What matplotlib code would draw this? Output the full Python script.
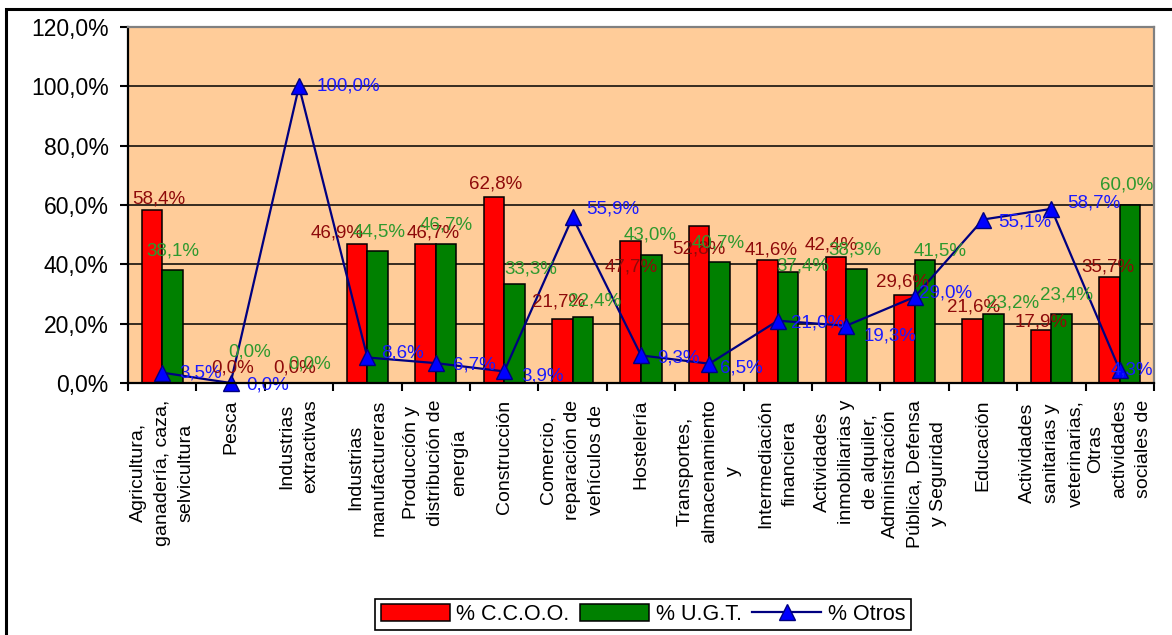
import numpy as np
import matplotlib.pyplot as plt
from matplotlib.patches import Rectangle, Patch
from matplotlib.lines import Line2D

plt.rcParams['font.family'] = ['Liberation Sans', 'DejaVu Sans']

# ---------- datos ----------
sectores = [
    "Agricultura,\nganadería, caza,\nselvicultura",
    "Pesca",
    "Industrias\nextractivas",
    "Industrias\nmanufactureras",
    "Producción y\ndistribución de\nenergía",
    "Construcción",
    "Comercio,\nreparación de\nvehículos de",
    "Hostelería",
    "Transportes,\nalmacenamiento\ny",
    "Intermediación\nfinanciera",
    "Actividades\ninmobiliarias y\nde alquiler,",
    "Administración\nPública, Defensa\ny Seguridad",
    "Educación",
    "Actividades\nsanitarias y\nveterinarias,",
    "Otras\nactividades\nsociales de",
]
ccoo = [58.4, 0.0, 0.0, 46.9, 46.7, 62.8, 21.7, 47.7, 52.8, 41.6, 42.4, 29.6, 21.6, 17.9, 35.7]
ugt = [38.1, 0.0, 0.0, 44.5, 46.7, 33.3, 22.4, 43.0, 40.7, 37.4, 38.3, 41.5, 23.2, 23.4, 60.0]
otros = [3.5, 0.0, 100.0, 8.6, 6.7, 3.9, 55.9, 9.3, 6.5, 21.0, 19.3, 29.0, 55.1, 58.7, 4.3]
y_ticks = [0, 20, 40, 60, 80, 100, 120]

# desplazamiento de las etiquetas (px): (dx, dy hacia arriba)
off_ccoo = [(7, 11), (12, 15), (6, 15), (-20, 11), (8, 11), (2, 13), (-4, 17), (0, -26),
            (0, -23), (4, 10), (-5, 12), (-2, 13), (1, 12), (0, 8), (-2, 10)]
off_ugt = [(0, 19), (9, 31), (0, 19), (1, 19), (0, 19), (16, 15), (12, 16), (-1, 20),
           (-1, 19), (15, 6), (-2, 19), (15, 9), (19, 11), (5, 19), (-3, 20)]
off_otros = [(17, 0), (16, -2), (18, 0), (14, 4), (17, -2), (17, -5), (14, 8), (16, -3),
             (11, -4), (13, -2), (17, -10), (4, 4), (15, -2), (16, 6), (-9, 0)]

def pct(v):
    return f"{v:.1f}%".replace(".", ",")

PX = 0.72  # px -> pt a 100 dpi

# ---------- figura ----------
fig = plt.figure(figsize=(11.72, 6.35), dpi=100)
ax = fig.add_axes([128/1172, 1 - 383/635, (1154-128)/1172, (383-27)/635])

# marco exterior
fig.patches.append(Rectangle((5.5/1172, -0.05), 1.1, 0.05 + 1 - 8.5/635,
                             transform=fig.transFigure, fill=False,
                             edgecolor='black', linewidth=2.2, clip_on=False))

ax.set_facecolor('#FFCC99')
x = np.arange(len(sectores)) + 0.5
w = 0.3

ax.bar(x - w/2, ccoo, w, color='#FF0000', edgecolor='black', linewidth=1.1, zorder=3)
ax.bar(x + w/2, ugt, w, color='#008000', edgecolor='black', linewidth=1.1, zorder=3)
ax.plot(x, otros, color='#000080', linewidth=1.6, marker='^', markersize=12,
        markerfacecolor='#0000FF', markeredgecolor='#000080', zorder=4, clip_on=False)

for i in range(len(sectores)):
    dx, dy = off_ccoo[i]
    ax.annotate(pct(ccoo[i]), (x[i] - w/2, ccoo[i]), xytext=(dx*PX, dy*PX),
                textcoords='offset points', ha='center', va='center',
                fontsize=13.5, color='#8E0A0A', zorder=5)
    dx, dy = off_ugt[i]
    ax.annotate(pct(ugt[i]), (x[i] + w/2, ugt[i]), xytext=(dx*PX, dy*PX),
                textcoords='offset points', ha='center', va='center',
                fontsize=13.5, color='#2E992E', zorder=5)
    dx, dy = off_otros[i]
    ax.annotate(pct(otros[i]), (x[i], otros[i]), xytext=(dx*PX, dy*PX),
                textcoords='offset points', ha='left', va='center',
                fontsize=13.5, color='#1A1AFF', zorder=5)

# ejes
ax.set_xlim(0, len(sectores))
ax.set_ylim(0, 120)
ax.set_yticks(y_ticks)
ax.set_yticklabels([pct(v) for v in y_ticks], fontsize=16.5)
ax.yaxis.grid(True, color='black', linewidth=1.1, zorder=1)
ax.set_axisbelow(True)

ax.set_xticks(np.arange(len(sectores) + 1))
ax.set_xticklabels([])
ax.set_xticks(x, sectores, minor=True, rotation=90, fontsize=14,
              ha='center', va='top', multialignment='center', linespacing=1.55)
ax.tick_params(axis='x', which='minor', length=0, pad=12)
ax.tick_params(axis='both', which='major', direction='out', length=6, width=1.5, color='black')
ax.tick_params(axis='y', pad=8)

for s in ['left', 'bottom']:
    ax.spines[s].set_color('black')
    ax.spines[s].set_linewidth(1.6)
for s in ['top', 'right']:
    ax.spines[s].set_color('#808080')
    ax.spines[s].set_linewidth(1.6)
for s in ax.spines.values():
    s.set_zorder(6)

handles = [
    Patch(facecolor='#FF0000', edgecolor='black', linewidth=1.1),
    Patch(facecolor='#008000', edgecolor='black', linewidth=1.1),
    Line2D([], [], color='#000080', linewidth=1.6, marker='^', markersize=12,
           markerfacecolor='#0000FF', markeredgecolor='#000080'),
]
leg = fig.legend(handles, ['% C.C.O.O.', '% U.G.T.', '% Otros'], loc='center',
                 bbox_to_anchor=(643/1172, 1 - 614.5/635), ncol=3, fontsize=15.5,
                 frameon=True, fancybox=False, edgecolor='black', framealpha=1,
                 handlelength=3.2, handleheight=0.8, columnspacing=0.5,
                 handletextpad=0.3, borderpad=0.25, borderaxespad=0)
leg.get_frame().set_linewidth(1.2)

fig.savefig('out.png', dpi=100)
